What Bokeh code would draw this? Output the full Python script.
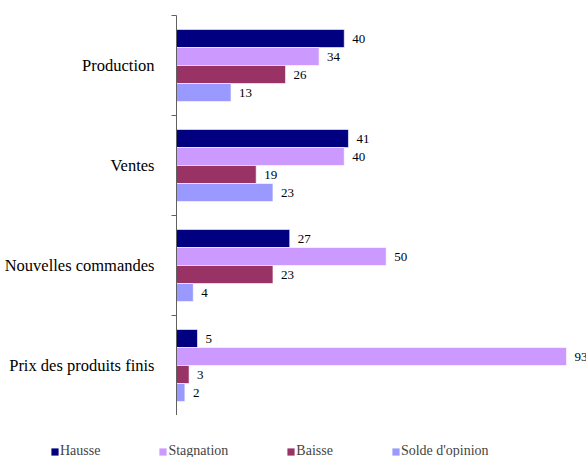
from bokeh.plotting import figure
from bokeh.layouts import column
from bokeh.models import (ColumnDataSource, Range1d, FixedTicker, LabelSet,
                          Legend, LegendItem)
from bokeh.transform import dodge
from bokeh.embed import file_html
from bokeh.resources import INLINE

categories = ["Production", "Ventes", "Nouvelles commandes", "Prix des produits finis"]
hausse = [40, 41, 27, 5]
stagnation = [34, 40, 50, 93]
baisse = [26, 19, 23, 3]
solde = [13, 23, 4, 2]

series_names = ["Hausse", "Stagnation", "Baisse", "Solde d'opinion"]
series_keys = ["hausse", "stagnation", "baisse", "solde"]
colors = ["#000080", "#CC99FF", "#993366", "#9999FF"]
offsets = [0.27, 0.09, -0.09, -0.27]

n = len(categories)
ypos = [n - i - 0.5 for i in range(n)]

source = ColumnDataSource(dict(
    y=ypos, cat=categories,
    hausse=hausse, stagnation=stagnation, baisse=baisse, solde=solde,
    hausse_t=[str(v) for v in hausse],
    stagnation_t=[str(v) for v in stagnation],
    baisse_t=[str(v) for v in baisse],
    solde_t=[str(v) for v in solde],
))

FONT = "Liberation Serif"

p = figure(width=586, height=415, output_backend="svg", toolbar_location=None,
           x_range=Range1d(0, 97.76), y_range=Range1d(0, 4),
           x_axis_location=None,
           min_border_left=176, min_border_right=0, min_border_top=15,
           min_border_bottom=0)
p.frame_align = False
p.outline_line_color = None
p.xgrid.visible = False
p.ygrid.visible = False
p.background_fill_color = "white"
p.border_fill_color = "white"

for key, col, off in zip(series_keys, colors, offsets):
    p.hbar(y=dodge("y", off), right=key, left=0, height=0.18, source=source,
           fill_color=col, line_color="white", line_width=0.6)
    lbl = LabelSet(x=key, y=dodge("y", off), text=key + "_t", source=source,
                   x_offset=8, text_baseline="middle", text_align="left",
                   text_font=FONT, text_font_size="13px", text_color="black")
    p.add_layout(lbl)

yax = p.yaxis[0]
yax.ticker = FixedTicker(ticks=ypos, minor_ticks=list(range(n + 1)))
yax.major_label_overrides = {y: c for y, c in zip(ypos, categories)}
yax.major_tick_out = 0
yax.major_tick_in = 0
yax.minor_tick_out = 5
yax.minor_tick_in = 0
yax.axis_line_color = "#606060"
yax.minor_tick_line_color = "#606060"
yax.major_label_standoff = 17
yax.major_label_text_font = FONT
yax.major_label_text_font_size = "16.5px"
yax.major_label_text_color = "black"

# legend strip: its renderers are zero-height bars (invisible), used for swatches
leg = figure(width=586, height=42, output_backend="svg", toolbar_location=None,
             x_range=Range1d(0, 586), y_range=Range1d(0, 42),
             x_axis_location=None, y_axis_location=None,
             min_border=0)
leg.frame_align = False
leg.outline_line_color = None
leg.xgrid.visible = False
leg.ygrid.visible = False
items = []
for key, name, col in zip(series_keys, series_names, colors):
    r = leg.hbar(y="y", right=key, left=0, height=0, source=source,
                 fill_color=col, line_color=None)
    items.append(LegendItem(label=name, renderers=[r]))

legend = Legend(items=items, orientation="horizontal", location=(50, -2),
                glyph_width=9, glyph_height=9, label_standoff=1, spacing=58,
                padding=0, margin=0, border_line_alpha=0, background_fill_alpha=0,
                label_text_font=FONT, label_text_font_size="14px",
                label_height=9)
leg.add_layout(legend, "center")

layout = column(p, leg, spacing=0)
open("out.html", "w").write(file_html(layout, INLINE))
